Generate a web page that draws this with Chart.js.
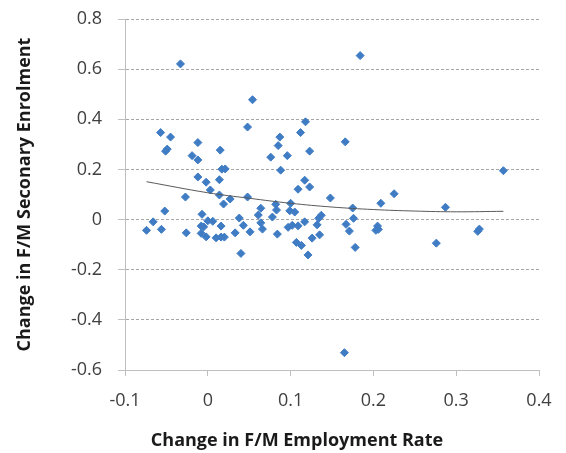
<!DOCTYPE html>
<html>
<head>
<meta charset="utf-8">
<script src="https://cdn.jsdelivr.net/npm/chart.js@4"></script>
<style>
    html, body { margin: 0; padding: 0; background: #ffffff; }
    #wrap { width: 566px; height: 453px; }
</style>
</head>
<body>
<div id="wrap"><canvas id="scatterChart" width="566" height="453"></canvas></div>
<script>
const xTitle = 'Change in F/M Employment Rate';
const yTitle = 'Change in F/M Seconary Enrolment';

const xTicks = [-0.1, 0, 0.1, 0.2, 0.3, 0.4];
const yTicks = [-0.6, -0.4, -0.2, 0, 0.2, 0.4, 0.6, 0.8];

// employment change (x) and enrolment change (y), one entry per country
const employmentChange = [
    -0.033, -0.057, -0.045, -0.051, -0.049, -0.012, -0.019, -0.012, 0.015, 0.017,
    0.021, -0.012, -0.002, 0.014, 0.003, -0.027, 0.014, 0.027, 0.048, 0.048,
    0.054, 0.076, 0.085, 0.087, 0.096, 0.088, 0.112, 0.118, 0.123, 0.109,
    0.117, 0.123, 0.148, 0.184, 0.166, 0.225, 0.357, -0.074, -0.066, -0.056,
    -0.052, -0.026, -0.007, -0.008, -0.005, -0.008, -0.002, 0.000, 0.006, 0.010,
    0.016, 0.020, 0.016, 0.019, 0.033, 0.038, 0.040, 0.043, 0.051, 0.061,
    0.064, 0.064, 0.066, 0.078, 0.082, 0.083, 0.084, 0.100, 0.099, 0.105,
    0.097, 0.102, 0.109, 0.107, 0.113, 0.117, 0.121, 0.126, 0.132, 0.134,
    0.137, 0.135, 0.175, 0.176, 0.167, 0.171, 0.178, 0.165, 0.209, 0.205,
    0.203, 0.206, 0.287, 0.276, 0.326, 0.328
];
const enrolmentChange = [
    0.621, 0.347, 0.329, 0.273, 0.281, 0.307, 0.255, 0.238, 0.277, 0.201,
    0.202, 0.170, 0.149, 0.159, 0.118, 0.090, 0.098, 0.082, 0.090, 0.369,
    0.478, 0.249, 0.295, 0.329, 0.255, 0.197, 0.347, 0.390, 0.273, 0.121,
    0.157, 0.130, 0.086, 0.654, 0.310, 0.103, 0.195, -0.043, -0.009, -0.039,
    0.034, -0.053, 0.021, -0.026, -0.029, -0.055, -0.069, -0.005, -0.007, -0.073,
    -0.070, -0.070, -0.026, 0.062, -0.053, 0.006, -0.135, -0.023, -0.049, 0.018,
    0.045, -0.013, -0.038, 0.010, 0.061, 0.038, -0.058, 0.065, 0.035, 0.030,
    -0.031, -0.023, -0.025, -0.091, -0.103, -0.009, -0.141, -0.074, -0.021, 0.005,
    0.017, -0.061, 0.046, 0.005, -0.019, -0.046, -0.111, -0.531, 0.065, -0.026,
    -0.043, -0.039, 0.049, -0.094, -0.047, -0.038
];

// trend line
const trendX = [-0.074, 0, 0.05, 0.1, 0.15, 0.2, 0.25, 0.3, 0.357];
const trendY = [0.151, 0.107, 0.085, 0.065, 0.05, 0.04, 0.034, 0.031, 0.033];

const FONT = '"Open Sans", "Noto Sans", sans-serif';

function fmtTick(v) {
    return String(Math.round(v * 10) / 10);
}

const xTitlePlugin = {
    id: 'xTitle',
    afterDraw(chart) {
        const ctx = chart.ctx;
        const area = chart.chartArea;
        ctx.save();
        ctx.font = 'bold 18px ' + FONT;
        ctx.fillStyle = '#1a1a1a';
        ctx.textAlign = 'center';
        ctx.textBaseline = 'middle';
        ctx.fillText(xTitle, (area.left + area.right) / 2 - 35, area.bottom + 71);
        ctx.restore();
    }
};

const points = employmentChange.map((x, i) => ({ x: x, y: enrolmentChange[i] }));
const trend = trendX.map((x, i) => ({ x: x, y: trendY[i] }));

new Chart(document.getElementById('scatterChart'), {
    type: 'scatter',
    data: {
        datasets: [
            {
                label: 'Countries',
                data: points,
                pointStyle: 'rectRot',
                pointRadius: 4,
                pointBorderWidth: 1,
                backgroundColor: '#3f7cc4',
                borderColor: '#3f7cc4',
                order: 2
            },
            {
                type: 'line',
                label: 'Trend',
                data: trend,
                borderColor: '#595959',
                borderWidth: 1,
                pointRadius: 0,
                tension: 0.4,
                fill: false,
                order: 1
            }
        ]
    },
    options: {
        responsive: false,
        animation: false,
        layout: { padding: { top: 19, right: 27, left: 0, bottom: 0 } },
        plugins: {
            legend: { display: false },
            tooltip: { enabled: false }
        },
        scales: {
            x: {
                type: 'linear',
                min: xTicks[0],
                max: xTicks[xTicks.length - 1],
                afterBuildTicks: (s) => { s.ticks = xTicks.map(v => ({ value: v })); },
                afterFit: (s) => { s.height = 83; s.paddingRight = 10; s.paddingLeft = 10; },
                ticks: {
                    callback: fmtTick,
                    color: '#404040',
                    font: { family: FONT, size: 18 },
                    padding: 14,
                    maxRotation: 0
                },
                grid: { drawOnChartArea: false, color: '#bfbfbf', tickLength: 6 },
                border: { color: '#bfbfbf' }
            },
            y: {
                min: yTicks[0],
                max: yTicks[yTicks.length - 1],
                afterBuildTicks: (s) => { s.ticks = yTicks.map(v => ({ value: v })); },
                afterFit: (s) => { s.width = 125; s.paddingTop = 10; s.paddingBottom = 10; },
                ticks: {
                    callback: fmtTick,
                    color: '#404040',
                    font: { family: FONT, size: 18 },
                    padding: 16
                },
                grid: {
                    color: '#a6a6a6',
                    tickColor: '#bfbfbf',
                    tickLength: 7,
                    tickBorderDash: []
                },
                border: { color: '#bfbfbf', dash: [3, 2] },
                title: {
                    display: true,
                    text: yTitle,
                    color: '#1a1a1a',
                    font: { family: FONT, size: 18, weight: 'bold' },
                    padding: { top: 14, bottom: 0 }
                }
            }
        }
    },
    plugins: [xTitlePlugin]
});
</script>
</body>
</html>
